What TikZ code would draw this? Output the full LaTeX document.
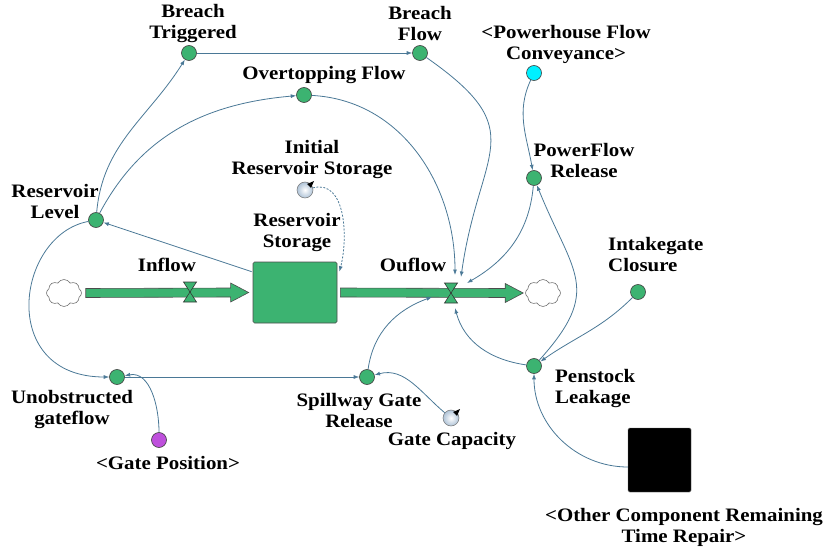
\documentclass[tikz,border=0pt]{standalone}
\usepackage{fontspec}
\setmainfont{Liberation Serif}[FakeStretch=1.1]
\usetikzlibrary{shapes.symbols,arrows.meta,calc}
\definecolor{vgreen}{RGB}{60,179,113}
\definecolor{conn}{RGB}{74,120,150}
\definecolor{cyanv}{RGB}{0,240,255}
\definecolor{magv}{RGB}{190,80,220}
\begin{document}
\begin{tikzpicture}[x=1pt,y=1pt,
 lbl/.style={font=\fontsize{19}{21}\selectfont\bfseries, align=center, inner sep=0pt, text=black},
 aux/.style={circle, draw=black!75, line width=0.6pt, fill=vgreen, minimum size=15pt, inner sep=0pt},
 link/.style={draw=conn, line width=0.8pt, -{Latex[length=5.5pt,width=4pt]}},
 shadowvar/.style={circle, draw=black!55, line width=0.5pt, inner color=white, outer color={rgb,255:red,175;green,195;blue,215}, minimum size=16pt, inner sep=0pt},
 sky/.style={cloud, cloud puffs=8, cloud puff arc=120, aspect=1.3, draw=black!55, fill=white, line width=0.6pt, minimum width=35pt, minimum height=27pt, inner sep=0pt},
 pipe/.style={fill=vgreen, draw=black!70, line width=0.6pt},
 valveshape/.style={fill=vgreen, draw=black!80, line width=0.6pt}
]
\useasboundingbox (0,0) rectangle (828,550);

% nodes
\node[aux] (BT) at (189,497) {};
\node[lbl] (BTl) at (193,526) {Breach\\Triggered};
\node[aux] (BF) at (420,497) {};
\node[lbl] (BFl) at (420,526) {Breach\\Flow};
\node[aux] (OF) at (304,455) {};
\node[lbl] (OFl) at (324,475) {Overtopping Flow};
\node[aux, fill=cyanv] (PFC) at (534,477) {};
\node[lbl] (PFCl) at (566,506) {<Powerhouse Flow\\Conveyance>};
\node[aux] (PFR) at (534,372) {};
\node[lbl] (PFRl) at (584,389) {PowerFlow\\Release};
\node[shadowvar] (IRS) at (305,360) {};
\node[lbl] (IRSl) at (312,390) {Initial\\Reservoir Storage};
\node[draw=black!70, fill=vgreen, line width=0.7pt, rounded corners=1.5pt, minimum width=84pt, minimum height=61pt, inner sep=0pt] (RS) at (295,257.5) {};
\node[lbl] (RSl) at (297,317) {Reservoir\\Storage};
\node[aux] (RL) at (96,330) {};
\node[lbl] (RLl) at (55,348) {Reservoir\\Level};
\node[sky] (CL) at (64,257) {};
\node[sky] (CR) at (543,257) {};
\coordinate (IV) at (190,258);
\coordinate (OV) at (451,257);
\node[lbl] (INl) at (167,285) {Inflow};
\node[lbl] (OUl) at (413,285) {Ouflow};
\node[aux] (IC) at (638,258) {};
\node[lbl, anchor=west, align=left] (ICl) at (608,295) {Intakegate\\Closure};
\node[aux] (PL) at (534,184) {};
\node[lbl, anchor=west, align=left] (PLl) at (555,161) {Penstock\\Leakage};
\node[aux] (UG) at (117,173) {};
\node[lbl] (UGl) at (72,140) {Unobstructed\\gateflow};
\node[aux, fill=magv] (GP) at (159,110) {};
\node[lbl] (GPl) at (168,87) {<Gate Position>};
\node[aux] (SGR) at (367,173) {};
\node[lbl] (SGRl) at (359,140) {Spillway Gate\\Release};
\node[shadowvar] (GC) at (451,132) {};
\node[lbl] (GCl) at (452,109) {Gate Capacity};
\node[draw=black!60, fill=black, rounded corners=1.5pt, minimum width=63pt, minimum height=64pt, inner sep=0pt] (OC) at (659.5,90) {};
\node[lbl] (OCl) at (684,23) {<Other Component Remaining\\Time Repair>};

% shadow-variable pointers
\foreach \s in {IRS,GC}
  \fill[black] ($(\s)+(2,6)$) -- ($(\s)+(9,9)$) -- ($(\s)+(6,2)$) -- cycle;

% pipes
\filldraw[pipe] ($(CL.east)+(4,4.5)$) -- ($(RS.west)+(-22,4.5)$) -- ($(RS.west)+(-22,9.5)$) -- ($(RS.west)+(-4,0)$) -- ($(RS.west)+(-22,-9.5)$) -- ($(RS.west)+(-22,-4.5)$) -- ($(CL.east)+(4,-4.5)$) -- cycle;
\filldraw[pipe] ($(RS.east)+(3,4.5)$) -- ($(CR.west)+(-20,4.5)$) -- ($(CR.west)+(-20,9.5)$) -- ($(CR.west)+(-2,0)$) -- ($(CR.west)+(-20,-9.5)$) -- ($(CR.west)+(-20,-4.5)$) -- ($(RS.east)+(3,-4.5)$) -- cycle;

% valves
\foreach \v in {IV,OV}{
  \filldraw[valveshape] ($(\v)+(-6.5,10)$) -- ($(\v)+(6.5,10)$) -- (\v) -- cycle;
  \filldraw[valveshape] ($(\v)+(-6.5,-10)$) -- ($(\v)+(6.5,-10)$) -- (\v) -- cycle;
}

% connector end points
\coordinate (OVa) at ($(OV)+(4,18)$);
\coordinate (OVb) at ($(OV)+(10,16)$);
\coordinate (OVc) at ($(OV)+(16,10)$);
\coordinate (OVd) at ($(OV)+(4,-15)$);
\coordinate (OVe) at ($(OV)+(-19,-4)$);
\coordinate (RSnw) at ($(RS.north west)+(-1,-10)$);
\coordinate (RSne) at ($(RS.north east)+(2,-10)$);
\coordinate (OCw) at ($(OC.west)+(0,-7)$);

% connectors
\draw[link] (RSnw) -- (RL);
\draw[link] (RL) to[out=85,in=238] (BT);
\draw[link] (RL) to[out=62,in=185] (OF);
\draw[link] (BT) -- (BF);
\draw[link] (BF) to[out=-35,in=82,looseness=1.5] (OVb);
\draw[link] (OF) to[out=-3,in=90] (OVa);
\draw[link] (PFC) to[out=245,in=100] (PFR);
\draw[link] (PFR) to[out=-95,in=30] (OVc);
\draw[link] (PL) to[out=48,in=-68,looseness=1.4] (PFR);
\draw[link] (IC) to[out=225,in=35] (PL);
\draw[link] (PL) to[out=172,in=-75] (OVd);
\draw[link] (SGR) to[out=82,in=200] (OVe);
\draw[link] (RL) .. controls +(-80,-15) and +(-120,0) .. (UG);
\draw[link] (UG) -- (SGR);
\draw[link] (GP) to[out=90,in=10] (UG);
\draw[link] (GC) to[out=140,in=15] (SGR);
\draw[link, dash pattern=on 2pt off 1.5pt] (IRS) to[out=15,in=75] (RSne);
\draw[link] (OCw) to[out=180,in=-90] (PL);
\end{tikzpicture}
\end{document}
